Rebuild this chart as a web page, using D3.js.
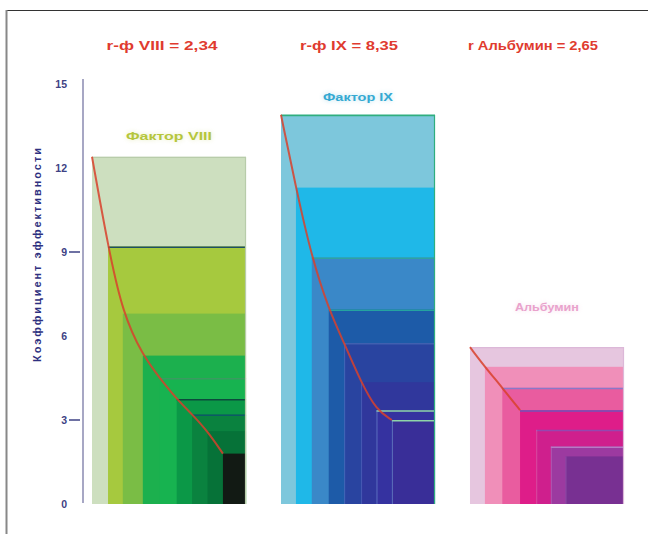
<!DOCTYPE html>
<html><head><meta charset="utf-8">
<script src="https://cdn.jsdelivr.net/npm/d3@7"></script>
<style>
  html, body { margin: 0; background: #fff; }
  svg { display: block; }
</style>
</head><body>
<svg id="chart" width="648" height="534"></svg>
<script>
// Efficiency coefficient of each purification step, three preparations
const groupNames  = ["Фактор VIII", "Фактор IX", "Альбумин"];
const groupTitles = ["r-ф VIII = 2,34", "r-ф IX = 8,35", "r Альбумин = 2,65"];

// left edge of every step, in step units (0..10 across one block)
const stepStartsVIII = [0, 1.04, 2.0, 3.3, 4.4, 5.5, 6.5, 7.5, 8.5];
const stepValuesVIII = [12.4, 9.2, 6.8, 5.3, 4.5, 3.75, 3.2, 2.6, 1.8];

const stepStartsIX = [0, 0.97, 2.0, 3.1, 4.1, 5.2, 6.2, 7.2];
const stepValuesIX = [13.9, 11.3, 8.8, 6.95, 5.75, 4.35, 3.35, 3.0];

const stepStartsAlb = [0, 0.97, 2.1, 3.25, 4.3, 5.25, 6.2];
const stepValuesAlb = [5.6, 4.9, 4.15, 3.35, 2.65, 2.05, 1.7];

// how many steps the red trend curve runs through
const curveStepCounts = [9, 8, 4];

const yTicks = [0, 3, 6, 9, 12, 15];
const yTickMarks = [3, 9];
const yTitle = "Коэффициент эффективности";

// palettes
const fillsVIII = ["#cddfbf", "#a6c93e", "#7abd45", "#1cb04e", "#17b350", "#0b9847", "#0a823f", "#067238", "#121a14"];
const topVIII   = [null, "#1f4f62", null, null, "#3a9a60", "#0c4a3c", "#0d5a66", null, null];
const leftVIII  = [null, null, null, null, null, null, null, null, null];

const fillsIX = ["#7dc7dc", "#1fb8e8", "#3a88c8", "#1d5ba8", "#2944a0", "#30379c", "#3532a0", "#392e98"];
const topIX   = ["#30ae7e", null, "#2fa3a0", "#25a3a0", "#4060b0", null, "#8fd4a8", "#8fd4a8"];
const leftIX  = [null, null, null, null, "#5a86cc", "#5a78c8", "#7aa0d8", "#7aa8d8"];

const fillsAlb = ["#e6c6df", "#f08fb9", "#e95c9f", "#de1d89", "#cf1f8d", "#9c3aa0", "#783092"];
const topAlb   = [null, null, "#8a78c8", "#7054b8", "#9447b0", "#b77ac4", null];
const leftAlb  = [null, null, null, null, "#e070b0", "#c070c0", "#a060b8"];

const outlineColors = ["#b8ccaa", "#30ae7e", "#dcb8d8"];
const labelColors   = ["#b5c63c", "#35a9d2", "#e9a2cc"];
const labelOffsets  = [17, 14, 36];
const labelWidths   = [86, 70, 64];
const titleCenters  = [162, 349, 533];
const titleWidths   = [111, 98, 130];

const groups = [
  { starts: stepStartsVIII, values: stepValuesVIII, fills: fillsVIII, top: topVIII, left: leftVIII },
  { starts: stepStartsIX,   values: stepValuesIX,   fills: fillsIX,   top: topIX,   left: leftIX },
  { starts: stepStartsAlb,  values: stepValuesAlb,  fills: fillsAlb,  top: topAlb,  left: leftAlb }
];

const svg = d3.select("#chart");
const font = "'Liberation Sans', Arial, sans-serif";

// frame
svg.append("line").attr("x1", 6).attr("x2", 648).attr("y1", 10.5).attr("y2", 10.5)
  .attr("stroke", "#333").attr("stroke-width", 1);
svg.append("line").attr("x1", 6.5).attr("x2", 6.5).attr("y1", 10).attr("y2", 534)
  .attr("stroke", "#888").attr("stroke-width", 2);

const defs = svg.append("defs");
defs.append("filter").attr("id", "haze").attr("x", "-30%").attr("y", "-80%")
  .attr("width", "160%").attr("height", "260%")
  .append("feGaussianBlur").attr("stdDeviation", 2.5);

const y = d3.scaleLinear().domain([0, 15]).range([504, 84]);
const band = d3.scaleBand().domain(groupNames).range([92, 624]).paddingInner(0.185).paddingOuter(0);

// y axis
const axisG = svg.append("g").attr("transform", "translate(83,0)")
  .call(d3.axisLeft(y).tickValues(yTicks).tickSize(0).tickPadding(16));
axisG.select(".domain").attr("stroke", "#8a8ab0").attr("stroke-width", 1.5)
  .attr("d", `M0,${y(15) - 5}V${y(0) - 1}`);
axisG.selectAll(".tick text")
  .attr("font-family", font).attr("font-weight", "bold").attr("font-size", 10.5)
  .attr("fill", "#3e4284");
axisG.selectAll(".tickmark").data(yTickMarks).join("line")
  .attr("x1", -14).attr("x2", -3).attr("y1", d => y(d)).attr("y2", d => y(d))
  .attr("stroke", "#3e4284").attr("stroke-width", 1.5);

svg.append("text")
  .attr("transform", `translate(41,${255}) rotate(-90)`)
  .attr("text-anchor", "middle")
  .attr("font-family", font).attr("font-weight", "bold").attr("font-size", 11)
  .attr("fill", "#2e3080")
  .attr("textLength", 214).attr("lengthAdjust", "spacing")
  .text(yTitle);

// titles
svg.selectAll(".title").data(groupTitles).join("text")
  .attr("class", "title")
  .attr("x", (d, i) => titleCenters[i])
  .attr("y", 50)
  .attr("text-anchor", "middle")
  .attr("font-family", font).attr("font-weight", "bold").attr("font-size", 12.5)
  .attr("fill", "#e03b2f")
  .attr("textLength", (d, i) => titleWidths[i]).attr("lengthAdjust", "spacingAndGlyphs")
  .text(d => d);

const line = d3.line().curve(d3.curveBasis);

groups.forEach((g, gi) => {
  const x0 = band(groupNames[gi]);
  const x = d3.scaleLinear().domain([0, 10]).range([x0, x0 + band.bandwidth()]);
  const right = x(10);
  const gEl = svg.append("g");
  const steps = g.values.map((v, i) => ({ v, s: g.starts[i], i }));

  gEl.selectAll("rect.step").data(steps).join("rect")
    .attr("class", "step")
    .attr("x", d => x(d.s)).attr("y", d => y(d.v))
    .attr("width", d => right - x(d.s)).attr("height", d => y(0) - y(d.v))
    .attr("fill", d => g.fills[d.i]);

  gEl.selectAll("line.top").data(steps.filter(d => g.top[d.i])).join("line")
    .attr("class", "top")
    .attr("x1", d => x(d.s)).attr("x2", right)
    .attr("y1", d => y(d.v) + 0.75).attr("y2", d => y(d.v) + 0.75)
    .attr("stroke", d => g.top[d.i]).attr("stroke-width", 1.5);

  gEl.selectAll("line.left").data(steps.filter(d => g.left[d.i])).join("line")
    .attr("class", "left")
    .attr("x1", d => x(d.s) + 0.5).attr("x2", d => x(d.s) + 0.5)
    .attr("y1", d => y(d.v)).attr("y2", y(0))
    .attr("stroke", d => g.left[d.i]).attr("stroke-width", 1).attr("opacity", 0.55);

  // outer outline of the block
  gEl.append("path")
    .attr("d", `M${x(0)},${y(g.values[0]) + 0.5}H${right - 0.5}V${y(0)}`)
    .attr("fill", "none").attr("stroke", outlineColors[gi]).attr("stroke-width", 1.2);

  // red trend curve through the step corners
  const pts = steps.slice(0, curveStepCounts[gi]).map(d => [x(d.s), y(d.v)]);
  gEl.append("path").attr("d", line(pts))
    .attr("fill", "none").attr("stroke", "#d8412c").attr("stroke-width", 2)
    .attr("stroke-opacity", 0.85);

  // block label with its soft haze
  const lx = x(5), ly = y(g.values[0]) - labelOffsets[gi];
  [true, false].forEach(hazy => {
    const t = svg.append("text").attr("x", lx).attr("y", ly).attr("text-anchor", "middle")
      .attr("font-family", font).attr("font-weight", "bold").attr("font-size", 11.5)
      .attr("fill", labelColors[gi])
      .attr("textLength", labelWidths[gi]).attr("lengthAdjust", "spacingAndGlyphs")
      .text(groupNames[gi]);
    if (hazy) t.attr("opacity", 0.35).attr("filter", "url(#haze)");
  });
});
</script>
</body></html>
